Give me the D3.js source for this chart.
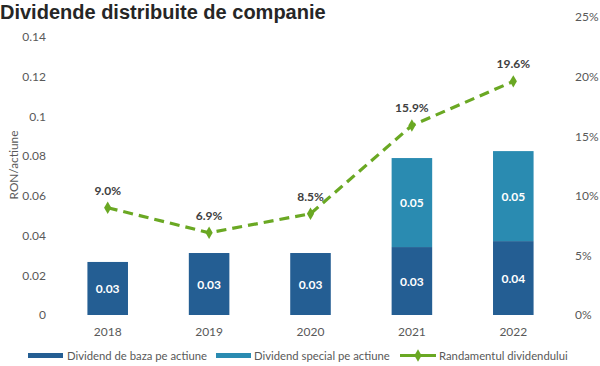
<!DOCTYPE html>
<html><head><meta charset="utf-8">
<script src="https://cdn.jsdelivr.net/npm/d3@7"></script>
<style>body{margin:0;background:#fff}svg{display:block}</style>
</head><body>
<svg id="c" width="600" height="366"></svg>
<script>
const years = ["2018","2019","2020","2021","2022"];
const baseDiv = [0.0267, 0.0312, 0.0312, 0.0342, 0.0372];
const specialDiv = [0, 0, 0, 0.0448, 0.0453];
const baseLabels = ["0.03","0.03","0.03","0.03","0.04"];
const specialLabels = ["","","","0.05","0.05"];
const yieldPct = [9.0, 6.9, 8.5, 15.9, 19.6];
const yieldLabels = ["9.0%","6.9%","8.5%","15.9%","19.6%"];
const leftTicks = [0,0.02,0.04,0.06,0.08,0.1,0.12,0.14];
const leftTickLabels = ["0","0.02","0.04","0.06","0.08","0.1","0.12","0.14"];
const rightTicks = [0,5,10,15,20,25];
const legendItems = ["Dividend de baza pe actiune","Dividend special pe actiune","Randamentul dividendului"];

const C_BASE = "#245e93", C_SPEC = "#2a8bb1", C_LINE = "#6aa823", C_TXT = "#595959";
const FONT = "Lato, sans-serif";
const svg = d3.select("#c");
const L = 57, R = 564, T = 17, B = 315;

const x = d3.scaleBand().domain(years).range([L, R]).paddingInner(0.6).paddingOuter(0.3);
const yL = d3.scaleLinear().domain([0, 0.15]).range([B, T]);
const yR = d3.scaleLinear().domain([0, 25]).range([B, T]);

svg.append("text").attr("x", 0).attr("y", 19)
  .attr("font-family", "'Liberation Sans', Arial, sans-serif").attr("font-weight", "bold")
  .attr("font-size", 20).attr("fill", "#262626").text("Dividende distribuite de companie");

// left axis
const ax = d3.axisLeft(yL).tickValues(leftTicks).tickFormat((d,i)=>leftTickLabels[i]).tickSize(0).tickPadding(0);
const gL = svg.append("g").attr("transform", `translate(46,0)`).call(ax);
gL.select(".domain").remove();
gL.selectAll("text").attr("font-family", FONT).attr("font-size", 12).attr("fill", C_TXT);

const axR = d3.axisRight(yR).tickValues(rightTicks).tickFormat(d=>d+"%").tickSize(0).tickPadding(0);
const gR = svg.append("g").attr("transform", `translate(575,0)`).call(axR);
gR.select(".domain").remove();
gR.selectAll("text").attr("font-family", FONT).attr("font-size", 12).attr("fill", C_TXT);

// x axis labels
const gX = svg.append("g").attr("transform", `translate(0,${B+8})`)
  .call(d3.axisBottom(x).tickSize(0).tickPadding(4));
gX.select(".domain").remove();
gX.selectAll("text").attr("font-family", FONT).attr("font-size", 12).attr("fill", C_TXT);

svg.append("text").attr("transform", "translate(17.5,165) rotate(-90)")
  .attr("text-anchor", "middle").attr("font-family", FONT).attr("font-size", 11.8)
  .attr("fill", C_TXT).text("RON/actiune");

// bars
const bw = x.bandwidth();
svg.append("g").selectAll("rect").data(years).join("rect")
  .attr("x", d => x(d)).attr("width", bw)
  .attr("y", (d,i) => yL(baseDiv[i])).attr("height", (d,i) => yL(0) - yL(baseDiv[i]))
  .attr("fill", C_BASE);
svg.append("g").selectAll("rect").data(years).join("rect")
  .attr("x", d => x(d)).attr("width", bw)
  .attr("y", (d,i) => yL(baseDiv[i] + specialDiv[i])).attr("height", (d,i) => yL(baseDiv[i]) - yL(baseDiv[i] + specialDiv[i]))
  .attr("fill", C_SPEC);

svg.append("g").selectAll("text").data(years).join("text")
  .attr("x", d => x(d) + bw/2).attr("y", (d,i) => yL(baseDiv[i]/2) + 4.5)
  .attr("text-anchor", "middle").attr("font-family", FONT).attr("font-weight", "bold")
  .attr("font-size", 12).attr("fill", "#fff").text((d,i) => baseLabels[i]);
svg.append("g").selectAll("text").data(years).join("text")
  .attr("x", d => x(d) + bw/2).attr("y", (d,i) => yL(baseDiv[i] + specialDiv[i]/2) + 4.5)
  .attr("text-anchor", "middle").attr("font-family", FONT).attr("font-weight", "bold")
  .attr("font-size", 12).attr("fill", "#fff").text((d,i) => specialLabels[i]);

// line
const cx = d => x(d) + bw/2;
const line = d3.line().x((d,i) => cx(years[i])).y(d => yR(d));
svg.append("path").datum(yieldPct).attr("d", line).attr("fill", "none")
  .attr("stroke", C_LINE).attr("stroke-width", 3.2).attr("stroke-dasharray", "10,6");
const diamond = d3.symbol().type(d3.symbolDiamond).size(45);
svg.append("g").selectAll("path").data(yieldPct).join("path")
  .attr("transform", (d,i) => `translate(${cx(years[i])},${yR(d)})`)
  .attr("d", diamond).attr("fill", C_LINE);
svg.append("g").selectAll("text").data(yieldPct).join("text")
  .attr("x", (d,i) => cx(years[i])).attr("y", d => yR(d) - 13)
  .attr("text-anchor", "middle").attr("font-family", FONT).attr("font-weight", "bold")
  .attr("font-size", 12).attr("fill", "#404040").text((d,i) => yieldLabels[i]);

// legend
const lg = svg.append("g").attr("font-family", FONT).attr("font-size", 11.3).attr("fill", C_TXT);
lg.append("rect").attr("x", 28).attr("y", 353).attr("width", 35).attr("height", 5).attr("fill", C_BASE);
lg.append("text").attr("x", 67).attr("y", 359.5).text(legendItems[0]);
lg.append("rect").attr("x", 216).attr("y", 353).attr("width", 35).attr("height", 5).attr("fill", C_SPEC);
lg.append("text").attr("x", 254).attr("y", 359.5).text(legendItems[1]);
lg.append("line").attr("x1", 400).attr("x2", 436).attr("y1", 355.5).attr("y2", 355.5)
  .attr("stroke", C_LINE).attr("stroke-width", 3);
lg.append("path").attr("transform", "translate(418,355.5)").attr("d", diamond).attr("fill", C_LINE);
lg.append("text").attr("x", 439).attr("y", 359.5).text(legendItems[2]);
</script>
</body></html>
